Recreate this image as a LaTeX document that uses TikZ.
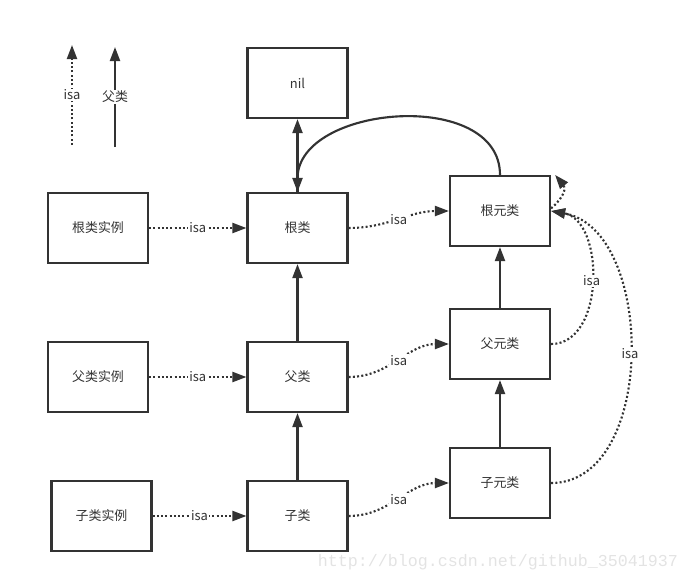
\documentclass[tikz,border=0pt]{standalone}
\usepackage{fontspec}
\setmainfont{Noto Sans CJK SC}
\newfontfamily\markfont{Liberation Mono}
\usetikzlibrary{arrows.meta}
\definecolor{ink}{HTML}{333333}
\begin{document}
\begin{tikzpicture}[
        x=0.75pt, y=-0.75pt,
        every node/.style={font=\fontsize{9.7}{11}\selectfont, text=ink},
        box/.style={rectangle, draw=ink, line width=1.6pt, minimum width=75pt, minimum height=52.5pt},
        super/.style={draw=ink, line width=1.6pt, -{Triangle[length=10.5pt, width=7.5pt]}},
        isaline/.style={draw=ink, line width=1.6pt, dash pattern=on 1.5pt off 1.7pt, -{Triangle[length=10.5pt, width=7.5pt]}},
        tag/.style={fill=white, inner sep=1pt}
      ]
      \useasboundingbox (0,0) rectangle (690,583);
      % legend
      \coordinate (isafrom) at (72,145);
      \coordinate (isato) at (72,45);
      \coordinate (supfrom) at (115,147);
      \coordinate (supto) at (115,47);
      \draw[isaline] (isafrom) -- node[tag] {isa} (isato);
      \draw[super] (supfrom) -- node[tag] {父类} (supto);
      % boxes
      \node[box] (nil) at (297.5,83) {nil};
      \node[box] (rootinst) at (98,228) {根类实例};
      \node[box] (root) at (297.5,228) {根类};
      \node[box] (rootmeta) at (500,211) {根元类};
      \node[box] (superinst) at (98,377) {父类实例};
      \node[box] (superclass) at (297.5,377) {父类};
      \node[box] (supermeta) at (500,344) {父元类};
      \node[box] (subinst) at (101.5,516) {子类实例};
      \node[box] (subclass) at (297.5,516) {子类};
      \node[box] (submeta) at (500,483) {子元类};
      % superclass chain
      \draw[super] (root) -- (nil);
      \draw[super] (superclass) -- (root);
      \draw[super] (subclass) -- (superclass);
      \draw[super] (supermeta) -- (rootmeta);
      \draw[super] (submeta) -- (supermeta);
      \draw[super] (rootmeta.north) to[out=90, in=90, looseness=1.1] (root.north);
      % isa chain
      \draw[isaline] (rootinst) -- node[tag] {isa} (root);
      \draw[isaline] (superinst) -- node[tag] {isa} (superclass);
      \draw[isaline] (subinst) -- node[tag] {isa} (subclass);
      \draw[isaline] (root.east) to[out=0, in=180] node[tag] {isa} (rootmeta.west);
      \draw[isaline] (superclass.east) to[out=0, in=180] node[tag] {isa} (supermeta.west);
      \draw[isaline] (subclass.east) to[out=0, in=180] node[tag] {isa} (submeta.west);
      \draw[isaline] (supermeta.east) to[out=0, in=-10, looseness=1.05] node[tag] {isa} (rootmeta.east);
      \draw[isaline] (submeta.east) to[out=0, in=-10, looseness=1.0] node[tag] {isa} (rootmeta.east);
      \draw[isaline] ([yshift=2pt]rootmeta.east) to[out=40, in=-50, looseness=1.3] ([xshift=3pt]rootmeta.north east);
      % watermark
      \node[font=\markfont\fontsize{12.5}{14}\selectfont, text=gray!22] (mark) at (498,562) {http://blog.csdn.net/github\_35041937};
    \end{tikzpicture}
\end{document}
